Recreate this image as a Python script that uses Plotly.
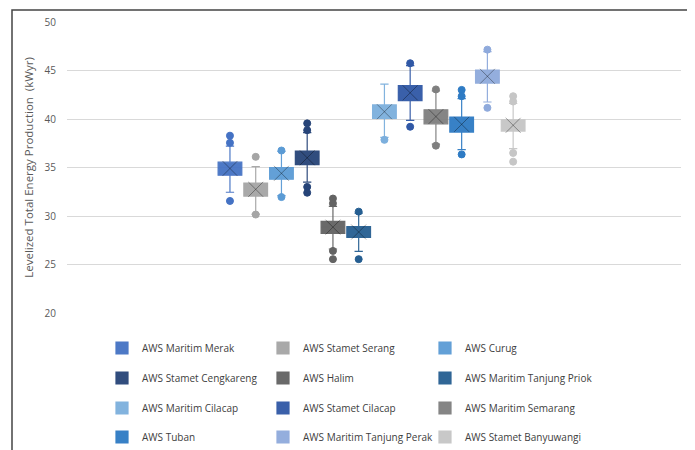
import plotly.graph_objects as go

names = ["AWS Maritim Merak", "AWS Stamet Serang", "AWS Curug",
         "AWS Stamet Cengkareng", "AWS Halim", "AWS Maritim Tanjung Priok",
         "AWS Maritim Cilacap", "AWS Stamet Cilacap", "AWS Maritim Semarang",
         "AWS Tuban", "AWS Maritim Tanjung Perak", "AWS Stamet Banyuwangi"]
colors = ["#4472C4", "#A5A5A5", "#5B9BD5", "#264478", "#636363", "#255E91",
          "#7CAFDD", "#3058A6", "#7F7F7F", "#2E7BC4", "#8FAADC", "#C6C6C6"]

q1 = [34.2, 32.05, 33.8, 35.3, 28.2, 27.8, 40.05, 41.9, 39.5, 38.65, 43.7, 38.75]
median = [34.9, 32.8, 34.4, 36.0, 28.85, 28.35, 40.8, 42.75, 40.25, 39.45, 44.4, 39.4]
q3 = [35.55, 33.4, 35.0, 36.7, 29.45, 28.9, 41.45, 43.45, 40.95, 40.2, 45.05, 39.9]
mean = [34.9, 32.75, 34.4, 36.0, 28.85, 28.35, 40.75, 42.7, 40.25, 39.45, 44.4, 39.35]
lowerfence = [32.45, 30.2, 32.1, 33.5, 26.6, 26.35, 38.1, 39.85, 37.4, 36.85, 41.75, 36.95]
upperfence = [37.2, 35.1, 36.65, 38.6, 31.0, 30.3, 43.6, 45.5, 42.9, 42.1, 46.95, 41.6]
outliers = [
    [38.28, 37.55, 31.55],
    [36.1, 30.15],
    [36.75, 31.95],
    [39.55, 38.85, 33.0, 32.4],
    [31.8, 31.3, 26.4, 25.55],
    [30.45, 25.55],
    [37.85],
    [45.75, 39.2],
    [43.05, 37.25],
    [43.0, 42.35, 36.35],
    [47.15, 41.15],
    [42.35, 41.8, 36.5, 35.6],
]

y_ticks = [20, 25, 30, 35, 40, 45, 50]
y_title = "Levelized Total Energy Production  (kWyr)"

FONT = "Open Sans"
# page body has an 8px margin; target coordinates below are window pixels
OFF = 8
W, H = 695 - OFF, 450 - OFF
PLOT_L, PLOT_R, PLOT_T, PLOT_B = 67, 681, 22, 313
L, T = PLOT_L - OFF, PLOT_T - OFF
R, B = W - (PLOT_R - OFF), H - (PLOT_B - OFF)
pw, ph = PLOT_R - PLOT_L, PLOT_B - PLOT_T


def px_x(p):
    return (p - PLOT_L) / pw


def px_y(p):
    return (PLOT_B - p) / ph


fig = go.Figure()
legend_cols = [102, 263, 425]
legend_rows = [348, 378, 408, 437]
layout_legends = {}

for i, name in enumerate(names):
    c = colors[i]
    lg = "legend" if i == 0 else f"legend{i + 1}"
    layout_legends[lg] = dict(
        orientation="v", x=px_x(legend_cols[i % 3]), xanchor="left",
        y=px_y(legend_rows[i // 3]), yanchor="middle",
        font=dict(family=FONT, size=10, color="#404040"),
        bgcolor="rgba(0,0,0,0)", itemclick=False, itemdoubleclick=False,
    )
    fig.add_trace(go.Box(
        x=[i], q1=[q1[i]], median=[median[i]], q3=[q3[i]],
        lowerfence=[lowerfence[i]], upperfence=[upperfence[i]],
        name=name, width=0.92, whiskerwidth=0.35,
        fillcolor=c, line=dict(color=c, width=1.2),
        boxpoints=False, hoverinfo="skip",
        legend=lg, opacity=0.95,
    ))
    fig.add_trace(go.Scatter(
        x=[i] * len(outliers[i]), y=outliers[i], mode="markers",
        marker=dict(symbol="circle", size=7, color=c,
                    line=dict(color=c, width=1)),
        showlegend=False, hoverinfo="skip",
    ))
    fig.add_trace(go.Scatter(
        x=[i], y=[mean[i]], mode="markers",
        marker=dict(symbol="x-thin", size=15,
                    line=dict(color="rgba(0,0,0,0.35)", width=1)),
        showlegend=False, hoverinfo="skip",
    ))

fig.update_layout(
    width=W, height=H,
    margin=dict(l=L, r=R, t=T, b=B, autoexpand=False),
    paper_bgcolor="white", plot_bgcolor="white",
    font=dict(family=FONT, color="#595959"),
    showlegend=True,
    xaxis=dict(range=[-6.33, 17.52], visible=False, fixedrange=True),
    yaxis=dict(
        range=[20, 50], tickvals=y_ticks, ticktext=[str(v) for v in y_ticks],
        showgrid=True, gridcolor="#D9D9D9", gridwidth=1,
        zeroline=False, showline=False, ticks="",
        ticklabelstandoff=10,
        tickfont=dict(family=FONT, size=10, color="#595959"),
        title=dict(text=y_title, standoff=8,
                   font=dict(family=FONT, size=11.5, color="#595959")),
    ),
    **layout_legends,
)

fig.add_shape(type="rect", xref="paper", yref="paper",
              x0=px_x(12), x1=px_x(691), y0=px_y(460), y1=px_y(10),
              line=dict(color="#444444", width=1.5), layer="above")

fig.write_html("out.html")
